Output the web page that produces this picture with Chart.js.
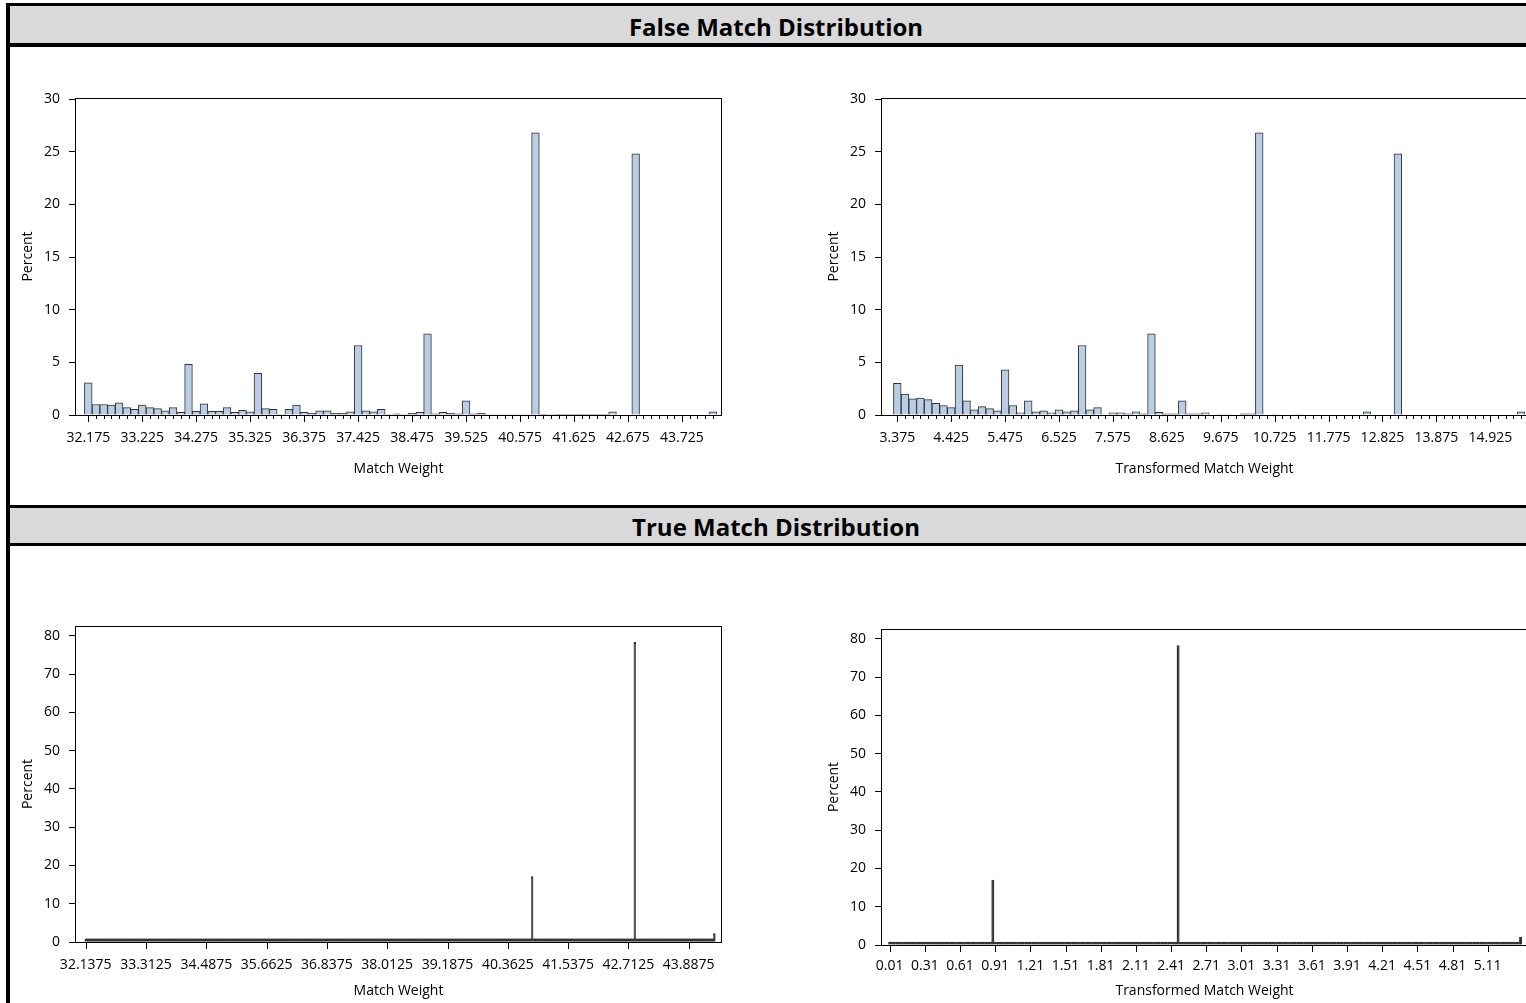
<!DOCTYPE html>
<html>
<head>
<meta charset="utf-8">
<script src="https://cdn.jsdelivr.net/npm/chart.js@4.4.0/dist/chart.umd.min.js"></script>
<style>
  body { margin: 0; width: 1526px; height: 1003px; overflow: hidden; background: #fff; position: relative; font-family: 'Open Sans', sans-serif; }
  #outer { position: absolute; left: 6px; top: 3px; width: 2000px; height: 2000px; border-left: 4px solid #000; border-top: 3px solid #000; }
  .band { position: absolute; left: 10px; width: 1532px; background: #d9d9d9; text-align: center; font-weight: bold; font-size: 24px; color: #000; }
  canvas { position: absolute; }
</style>
</head>
<body>
<div id="outer"></div>
<div class="band" style="top:6px; height:37px; line-height:42px; border-bottom:4px solid #000;">False Match Distribution</div>
<div class="band" style="top:505px; height:35px; line-height:38px; border-top:3px solid #000; border-bottom:3px solid #000;">True Match Distribution</div>

<canvas id="falseWeight" width="748" height="425" style="left:12px; top:60px;"></canvas>
<canvas id="falseTrans" width="748" height="425" style="left:818px; top:60px;"></canvas>
<canvas id="trueWeight" width="748" height="418" style="left:12px; top:585px;"></canvas>
<canvas id="trueTrans" width="748" height="415" style="left:818px; top:588px;"></canvas>

<script>
// ---- False match: match weight, bins of 0.15 starting at 32.175
const falseWeightPct = [
  3.05, 1.0, 1.0, 0.95, 1.15, 0.7, 0.55,
  0.95, 0.7, 0.6, 0.4, 0.7, 0.25, 4.8,
  0.35, 1.05, 0.35, 0.35, 0.7, 0.25, 0.45,
  0.3, 3.95, 0.6, 0.55, 0.05, 0.55, 0.95,
  0.25, 0.15, 0.4, 0.4, 0.15, 0.15, 0.3,
  6.6, 0.4, 0.3, 0.55, 0.05, 0.1, 0.05,
  0.15, 0.25, 7.7, 0.1, 0.25, 0.15, 0.1,
  1.35, 0.1, 0.15, 0.05, 0.05, 0.05, 0.05,
  0.05, 0.05, 26.8, 0.03, 0.05, 0.03, 0.03,
  0.03, 0.03, 0.03, 0.03, 0.03, 0.3, 0,
  0, 24.8, 0, 0, 0, 0, 0,
  0, 0, 0, 0, 0.3
];
const falseWeightTicks = ['32.175', '33.225', '34.275', '35.325', '36.375', '37.425',
  '38.475', '39.525', '40.575', '41.625', '42.675', '43.725'];

// ---- False match: transformed weight, bins of 0.15 starting at 3.375
const falseTransPct = [
  3.0, 1.98, 1.53, 1.6, 1.46, 1.1, 0.9,
  0.7, 4.75, 1.35, 0.5, 0.8, 0.6, 0.4,
  4.3, 0.9, 0.2, 1.35, 0.3, 0.4, 0.2,
  0.5, 0.3, 0.4, 6.6, 0.5, 0.7, 0,
  0.2, 0.2, 0.1, 0.3, 0.1, 7.7, 0.25,
  0.1, 0.1, 1.35, 0.1, 0.1, 0.2, 0,
  0.05, 0.05, 0, 0.1, 0.1, 26.8, 0,
  0.05, 0, 0, 0.05, 0, 0, 0,
  0, 0, 0, 0, 0, 0.3, 0,
  0, 0, 24.8, 0, 0, 0, 0,
  0, 0, 0, 0, 0, 0, 0,
  0, 0, 0, 0, 0.3
];
const falseTransTicks = ['3.375', '4.425', '5.475', '6.525', '7.575', '8.625',
  '9.675', '10.725', '11.775', '12.825', '13.875', '14.925'];

// ---- True match: match weight, bins of 0.025 starting at 32.1375 (47 bins per tick)
const trueWeightPct = [
  .01,.01,.01,.01,.01,.01,.01,.01,.01,.01, .01,.01,.01,.01,.01,.01,.01,.01,.01,.01, .01,.01,.01,.01,.01,.01,.01,.01,.01,.01, .01,.01,.01,.01,.01,.01,.01,.01,.01,.01, .01,.01,.01,.01,.01,.01,.01,
  .01,.01,.01,.01,.01,.01,.01,.01,.01,.01, .01,.01,.01,.01,.01,.01,.01,.01,.01,.01, .01,.01,.01,.01,.01,.01,.01,.01,.01,.01, .01,.01,.01,.01,.01,.01,.01,.01,.01,.01, .01,.01,.01,.01,.01,.01,.01,
  .01,.01,.01,.01,.01,.01,.01,.01,.01,.01, .01,.01,.01,.01,.01,.01,.01,.01,.01,.01, .01,.01,.01,.01,.01,.01,.01,.01,.01,.01, .01,.01,.01,.01,.01,.01,.01,.01,.01,.01, .01,.01,.01,.01,.01,.01,.01,
  .01,.01,.01,.01,.01,.01,.01,.01,.01,.01, .01,.01,.01,.01,.01,.01,.01,.01,.01,.01, .01,.01,.01,.01,.01,.01,.01,.01,.01,.01, .01,.01,.01,.01,.01,.01,.01,.01,.01,.01, .01,.01,.01,.01,.01,.01,.01,
  .01,.01,.01,.01,.01,.01,.01,.01,.01,.01, .01,.01,.01,.01,.01,.01,.01,.01,.01,.01, .01,.01,.01,.01,.01,.01,.01,.01,.01,.01, .01,.01,.01,.01,.01,.01,.01,.01,.01,.01, .01,.01,.01,.01,.01,.01,.01,
  .01,.01,.01,.01,.01,.01,.01,.01,.01,.01, .01,.01,.01,.01,.01,.01,.01,.01,.01,.01, .01,.01,.01,.01,.01,.01,.01,.01,.01,.01, .01,.01,.5,.01,.01,.01,.01,.01,.01,.01, .01,.01,.01,.01,.01,.01,.01,
  .01,.01,.01,.01,.01,.01,.01,.01,.01,.01, .01,.01,.4,.01,.01,.01,.01,.01,.01,.01, .01,.01,.01,.01,.01,.01,.01,.01,.01,.01, .01,.01,.01,.01,.01,.01,.01,.01,.01,.01, .01,.01,.01,.01,.01,.01,.01,
  .01,.01,.01,.01,.01,.01,.01,.01,.01,.01, .01,.01,.01,.01,.01,.01,.01,.01,.01,17, .01,.01,.01,.01,.01,.01,.01,.01,.01,.01, .01,.01,.01,.01,.01,.01,.01,.01,.01,.01, .01,.01,.01,.01,.01,.01,.01,
  .01,.01,.01,.01,.01,.01,.01,.4,.01,.01, .01,.01,.01,.01,.01,.01,.01,.01,.01,.01, .01,.01,.01,.01,.01,.01,.01,.01,.01,.01, .01,.01,.01,.01,.01,.5,.01,.01,.01,.01, .01,.01,.01,.01,.01,.01,.01,
  .01,.01,.01,.01,.01,78.3,.01,.01,.01,.01, .01,.01,.01,.01,.01,.01,.01,.01,.01,.01, .01,.01,.01,.01,.01,.01,.01,.01,.01,.01, .01,.01,.01,.01,.01,.01,.01,.01,.01,.01, .01,.01,.01,.01,.01,.01,.01,
  .01,.01,.01,.01,.01,.01,.01,.01,.01,.01, .01,.01,.01,.01,.01,.01,.01,.01,.01,.01, 2.1
];
const trueWeightTicks = ['32.1375', '33.3125', '34.4875', '35.6625', '36.8375', '38.0125',
  '39.1875', '40.3625', '41.5375', '42.7125', '43.8875'];

// ---- True match: transformed weight, bins of 0.02 starting at 0.01 (15 bins per tick)
const trueTransPct = [
  .01,.01,.01,.01,.01,.01,.01,.01,.01,.01,.01,.01,.01,.01,.01,
  .5,.01,.01,.01,.01,.01,.01,.3,.01,.01,.01,.01,.01,.01,.01,
  .01,.01,.01,.01,.01,.01,.01,.01,.01,.01,.01,.01,.01,.01,17,
  .01,.01,.01,.01,.01,.01,.01,.01,.01,.01,.01,.01,.01,.01,.01,
  .01,.01,.01,.01,.01,.01,.01,.01,.01,.01,.01,.01,.01,.01,.01,
  .01,.01,.01,.01,.01,.01,.01,.01,.01,.01,.01,.01,.01,.01,.01,
  .01,.01,.01,.01,.01,.01,.01,.01,.01,.4,.01,.01,.01,.01,.01,
  .01,.01,.01,.01,.01,.01,.01,.01,.01,.01,.01,.01,.01,.01,.01,
  .01,.01,.01,78.3,.01,.01,.01,.01,.01,.01,.01,.01,.01,.01,.01,
  .01,.01,.01,.01,.01,.01,.01,.01,.01,.01,.01,.01,.01,.01,.01,
  .01,.01,.01,.01,.01,.01,.01,.01,.01,.01,.01,.01,.01,.01,.01,
  .01,.01,.01,.01,.01,.01,.01,.01,.01,.01,.01,.01,.01,.01,.01,
  .01,.01,.01,.01,.01,.01,.01,.01,.01,.01,.01,.01,.01,.01,.01,
  .01,.01,.01,.01,.01,.01,.01,.01,.01,.01,.01,.01,.01,.01,.01,
  .01,.01,.01,.01,.01,.01,.01,.01,.01,.01,.01,.01,.01,.01,.01,
  .01,.01,.01,.01,.01,.01,.01,.01,.01,.01,.01,.01,.01,.01,.01,
  .01,.01,.01,.01,.01,.01,.01,.01,.01,.01,.01,.01,.01,.01,.01,
  .01,.01,.01,.01,.01,.01,.01,.01,.01,.01,.01,.01,.01,.01,2.1
];
const trueTransTicks = ['0.01', '0.31', '0.61', '0.91', '1.21', '1.51', '1.81', '2.11', '2.41',
  '2.71', '3.01', '3.31', '3.61', '3.91', '4.21', '4.51', '4.81', '5.11'];

Chart.defaults.font.family = "'Open Sans', sans-serif";
Chart.defaults.font.size = 14;
Chart.defaults.color = '#000';
Chart.defaults.animation = false;

// box round the plot area + tick marks under the x axis
const framePlugin = {
  id: 'frame',
  afterDraw(chart, args, opts) {
    const { ctx, chartArea: a, scales: { x } } = chart;
    ctx.save();
    ctx.strokeStyle = '#000';
    ctx.lineWidth = 1;
    ctx.strokeRect(Math.round(a.left) - 0.5, Math.round(a.top) + 0.5,
      Math.round(a.right - a.left) + 1, Math.round(a.bottom - a.top));
    ctx.beginPath();
    (opts.minor || []).forEach(v => {
      const px = Math.round(x.getPixelForValue(v)) + 0.5;
      ctx.moveTo(px, a.bottom);
      ctx.lineTo(px, a.bottom + 4);
    });
    (opts.major || []).forEach(v => {
      const px = Math.round(x.getPixelForValue(v)) + 0.5;
      ctx.moveTo(px, a.bottom);
      ctx.lineTo(px, a.bottom + 7);
    });
    ctx.stroke();
    ctx.restore();
  }
};

function histogram(id, o) {
  const centers = o.values.map((v, i) => +(o.firstBin + i * o.binWidth).toFixed(4));
  const tickVals = o.tickLabels.map(Number);
  return new Chart(document.getElementById(id), {
    type: 'bar',
    data: {
      datasets: [{
        data: o.values.map((v, i) => ({ x: centers[i], y: v })),
        backgroundColor: o.fill,
        borderColor: '#333',
        borderWidth: 1,
        barPercentage: 1,
        categoryPercentage: 1,
        inflateAmount: o.inflate,
        minBarLength: o.minBar || 0
      }]
    },
    options: {
      responsive: false,
      layout: { padding: { top: o.padTop, right: 39, left: 0, bottom: 0 } },
      plugins: {
        legend: { display: false },
        tooltip: { enabled: false },
        frame: { minor: o.minorTicks ? centers : [], major: tickVals }
      },
      scales: {
        x: {
          type: 'linear', bounds: 'data', offset: false,
          min: o.xMin, max: o.xMax,
          afterBuildTicks: s => { s.ticks = tickVals.map(v => ({ value: v })); },
          afterFit: s => { s.height = o.xHeight; },
          grid: { display: false, drawTicks: true, tickLength: 7 },
          border: { display: false },
          ticks: {
            autoSkip: false, maxRotation: 0, minRotation: 0, padding: o.labelPad,
            callback: (v, i) => o.tickLabels[i]
          },
          title: { display: true, text: o.xTitle, padding: { top: 0, bottom: o.titlePad } }
        },
        y: {
          min: 0, max: o.yMax, bounds: 'data',
          afterFit: s => { s.width = 64; },
          ticks: { stepSize: o.yStep, includeBounds: false, padding: 9 },
          grid: { display: true, drawOnChartArea: false, drawTicks: true, tickLength: 7, color: '#000', tickColor: '#000' },
          border: { display: false },
          title: { display: true, text: 'Percent', padding: { top: 8, bottom: 0 } }
        }
      }
    },
    plugins: [framePlugin]
  });
}

histogram('falseWeight', {
  values: falseWeightPct, firstBin: 32.175, binWidth: 0.15, tickLabels: falseWeightTicks,
  xMin: 31.936, xMax: 44.485, yMax: 30.1, yStep: 5, minorTicks: true,
  fill: '#b9cde5', inflate: 'auto',
  padTop: 38, xHeight: 70, labelPad: 8, titlePad: 8, xTitle: 'Match Weight'
});
histogram('falseTrans', {
  values: falseTransPct, firstBin: 3.375, binWidth: 0.15, tickLabels: falseTransTicks,
  xMin: 3.077, xMax: 15.64, yMax: 30.1, yStep: 5, minorTicks: true,
  fill: '#b9cde5', inflate: 'auto',
  padTop: 38, xHeight: 70, labelPad: 8, titlePad: 8, xTitle: 'Transformed Match Weight'
});
histogram('trueWeight', {
  values: trueWeightPct, firstBin: 32.1375, binWidth: 0.025, tickLabels: trueWeightTicks,
  xMin: 31.948, xMax: 44.517, yMax: 82.6, yStep: 10, minBar: 3,
  fill: '#333', inflate: 0.6,
  padTop: 41, xHeight: 61, labelPad: 8, titlePad: 4, xTitle: 'Match Weight'
});
histogram('trueTrans', {
  values: trueTransPct, firstBin: 0.01, binWidth: 0.02, tickLabels: trueTransTicks,
  xMin: -0.055, xMax: 5.445, yMax: 82.6, yStep: 10, minBar: 3,
  fill: '#333', inflate: 0.3,
  padTop: 41, xHeight: 58, labelPad: 6, titlePad: 4, xTitle: 'Transformed Match Weight'
});
</script>
</body>
</html>
